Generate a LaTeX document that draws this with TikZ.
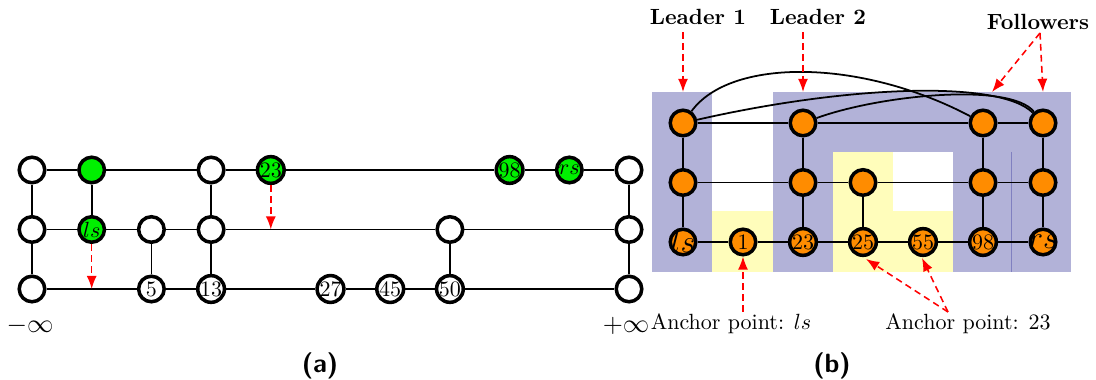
\documentclass[tikz,border=0pt]{standalone}
\usetikzlibrary{arrows.meta}
\definecolor{bgblue}{RGB}{178,178,216}
\definecolor{bgyellow}{RGB}{255,253,187}
\definecolor{bgline}{RGB}{128,128,192}
\definecolor{nodeorange}{RGB}{255,140,0}
\definecolor{nodegreen}{RGB}{0,240,0}
\begin{document}
\begin{tikzpicture}[x=0.4545pt,y=-0.4545pt,
  vtx/.style={circle, draw, line width=1.6pt, fill=white, minimum size=11.6pt, inner sep=0pt},
  gvtx/.style={vtx, fill=nodegreen},
  ovtx/.style={vtx, fill=nodeorange},
  link/.style={line width=0.8pt},
  redarrow/.style={red, line width=0.7pt, dash pattern=on 3pt off 2pt, -{Latex[length=6pt,width=4.6pt]}},
  lbl/.style={inner sep=0pt}]
\useasboundingbox (0,0) rectangle (1096,380);

% ---------- (a) ----------
% top row
\node[vtx]  (a00)  at (32,170) {};
\node[gvtx] (a01)  at (91.7,170) {};
\node[vtx]  (a03)  at (211.1,170) {};
\node[gvtx] (a04)  at (270.8,170) {23};
\node[gvtx] (a08)  at (509.6,170) {98};
\node[gvtx] (a09)  at (569.3,170) {$rs$};
\node[vtx]  (a010) at (629,170) {};
% middle row
\node[vtx]  (a10)  at (32,229.5) {};
\node[gvtx] (a11)  at (91.7,229.5) {$ls$};
\node[vtx]  (a12)  at (151.4,229.5) {};
\node[vtx]  (a13)  at (211.1,229.5) {};
\node[vtx]  (a17)  at (449.9,229.5) {};
\node[vtx]  (a110) at (629,229.5) {};
% bottom row
\node[vtx]  (a20)  at (32,289) {};
\node[vtx]  (a22)  at (151.4,289) {5};
\node[vtx]  (a23)  at (211.1,289) {13};
\node[vtx]  (a25)  at (330.5,289) {27};
\node[vtx]  (a26)  at (390.2,289) {45};
\node[vtx]  (a27)  at (449.9,289) {50};
\node[vtx]  (a210) at (629,289) {};

\draw[link] (a00) -- (a01) -- (a03) -- (a04) -- (a08) -- (a09) -- (a010);
\draw[link] (a10) -- (a11) -- (a12) -- (a13) -- (a17) -- (a110);
\draw[link] (a20) -- (a22) -- (a23) -- (a25) -- (a26) -- (a27) -- (a210);
\draw[link] (a00) -- (a10) -- (a20);
\draw[link] (a01) -- (a11);
\draw[link] (a12) -- (a22);
\draw[link] (a03) -- (a13) -- (a23);
\draw[link] (a17) -- (a27);
\draw[link] (a010) -- (a110) -- (a210);

\coordinate (ta1) at (91.7,289);
\coordinate (ta2) at (270.8,229.5);
\draw[redarrow] (a11) -- (ta1);
\draw[redarrow] (a04) -- (ta2);

\node[lbl] (minf) at (30,326) {\large $-\infty$};
\node[lbl] (pinf) at (626,326) {\large $+\infty$};
\node[lbl] (capa) at (320,366) {\large\sffamily\bfseries (a)};

% ---------- (b) ----------
\fill[bgblue] (652,92) rectangle (712,272);
\fill[bgblue] (773,92) rectangle (1071,152);
\fill[bgblue] (773,152) rectangle (833,272);
\fill[bgblue] (953,152) rectangle (1071,272);
\fill[bgyellow] (712,211) rectangle (773,272);
\fill[bgyellow] (833,152) rectangle (893,272);
\fill[bgyellow] (893,211) rectangle (953,272);
\draw[bgline, line width=0.4pt] (1011,152) -- (1011,272);

% top row
\node[ovtx] (b00) at (683,123) {};
\node[ovtx] (b02) at (803,123) {};
\node[ovtx] (b05) at (983,123) {};
\node[ovtx] (b06) at (1043,123) {};
% middle row
\node[ovtx] (b10) at (683,182.5) {};
\node[ovtx] (b12) at (803,182.5) {};
\node[ovtx] (b13) at (863,182.5) {};
\node[ovtx] (b15) at (983,182.5) {};
\node[ovtx] (b16) at (1043,182.5) {};
% bottom row
\node[ovtx] (b20) at (683,242) {\makebox[0pt]{\Large $ls$}};
\node[ovtx] (b21) at (743,242) {1};
\node[ovtx] (b22) at (803,242) {23};
\node[ovtx] (b23) at (863,242) {25};
\node[ovtx] (b24) at (923,242) {55};
\node[ovtx] (b25) at (983,242) {98};
\node[ovtx] (b26) at (1043,242) {\makebox[0pt]{\Large $rs$}};

\draw[link] (b00) -- (b02) -- (b05) -- (b06);
\draw[link] (b10) -- (b12) -- (b13) -- (b15) -- (b16);
\draw[link] (b20) -- (b21) -- (b22) -- (b23) -- (b24) -- (b25) -- (b26);
\draw[link] (b00) -- (b10) -- (b20);
\draw[link] (b02) -- (b12) -- (b22);
\draw[link] (b13) -- (b23);
\draw[link] (b05) -- (b15) -- (b25);
\draw[link] (b06) -- (b16) -- (b26);

\draw[link] (b00) .. controls (730,58) and (860,58) .. (b05);
\draw[link] (b00) .. controls (850,85) and (1000,80) .. (b06);
\draw[link] (b02) .. controls (880,95) and (1010,82) .. (b06);

% labels and arrows
\node[lbl] (l1) at (698,17) {\bfseries Leader 1};
\node[lbl] (l2) at (818,17) {\bfseries Leader 2};
\node[lbl] (fol) at (1038,22) {\bfseries Followers};
\coordinate (l1s) at (683,32);
\coordinate (l1e) at (683,92);
\coordinate (l2s) at (803,32);
\coordinate (l2e) at (803,92);
\coordinate (fs) at (1040,33);
\coordinate (fe1) at (992,92);
\coordinate (fe2) at (1043,92);
\draw[redarrow] (l1s) -- (l1e);
\draw[redarrow] (l2s) -- (l2e);
\draw[redarrow] (fs) -- (fe1);
\draw[redarrow] (fs) -- (fe2);

\node[lbl] (anc1) at (731,324) {Anchor point: $ls$};
\node[lbl] (anc2) at (968,324) {Anchor point: $23$};
\coordinate (a1s) at (743,312);
\coordinate (a2s) at (948,312);
\coordinate (a2e1) at (866,259);
\coordinate (a2e2) at (922,258);
\draw[redarrow] (a1s) -- (b21);
\draw[redarrow] (a2s) -- (a2e1);
\draw[redarrow] (a2s) -- (a2e2);

\node[lbl] (capb) at (832,366) {\large\sffamily\bfseries (b)};
\end{tikzpicture}
\end{document}
